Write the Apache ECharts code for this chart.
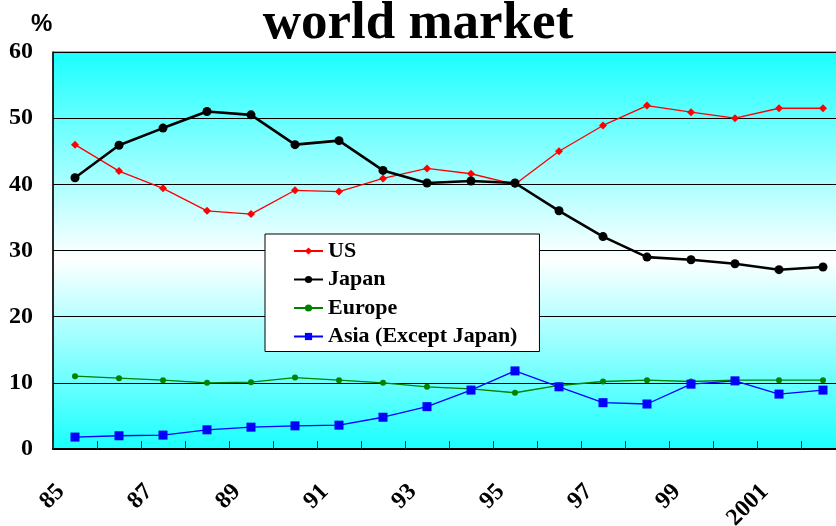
<!DOCTYPE html>
<html>
<head>
<meta charset="utf-8">
<script src="https://cdn.jsdelivr.net/npm/echarts@6/dist/echarts.min.js"></script>
<style>
  html, body { margin: 0; padding: 0; background: #ffffff; }
  #chart { width: 836px; height: 526px; }
</style>
</head>
<body>
<div id="chart"></div>
<script>
// Years on the category axis (85 … 2002)
const years = ['85', '86', '87', '88', '89', '90', '91', '92', '93', '94',
               '95', '96', '97', '98', '99', '2000', '2001', '2002'];

// Market share, %
const usShare     = [46.0, 42.0, 39.4, 36.0, 35.5, 39.1, 38.9, 40.9, 42.4, 41.6,
                     40.0, 45.0, 48.9, 51.9, 50.9, 50.0, 51.5, 51.5];
const japanShare  = [41.0, 45.9, 48.5, 51.0, 50.5, 46.0, 46.6, 42.1, 40.2, 40.5,
                     40.2, 36.0, 32.1, 29.0, 28.6, 28.0, 27.1, 27.5];
const europeShare = [11.0, 10.7, 10.4, 10.0, 10.1, 10.8, 10.4, 10.0, 9.4, 9.1,
                     8.5, 9.6, 10.2, 10.4, 10.2, 10.4, 10.4, 10.4];
const asiaShare   = [1.8, 2.0, 2.1, 2.9, 3.3, 3.5, 3.6, 4.8, 6.4, 8.9,
                     11.8, 9.4, 7.0, 6.8, 9.8, 10.3, 8.3, 8.9];

const serif = '"Liberation Serif", "Times New Roman", serif';

const chart = echarts.init(document.getElementById('chart'), null, { renderer: 'canvas' });

chart.setOption({
  animation: false,
  backgroundColor: '#ffffff',
  title: [
    {
      text: 'world market',
      left: 'center',
      top: -2,
      padding: 0,
      textStyle: { fontFamily: serif, fontWeight: 'bold', fontSize: 53, color: '#000' }
    },
    {
      text: '%',
      left: 31,
      top: 12,
      padding: 0,
      textStyle: { fontFamily: '"Liberation Sans", Arial, sans-serif', fontWeight: 'bold', fontSize: 24, color: '#000' }
    }
  ],
  legend: {
    orient: 'vertical',
    left: 265,
    top: 234,
    padding: [6, 22, 4, 28],
    itemWidth: 29,
    itemHeight: 9,
    itemGap: 6.5,
    backgroundColor: '#ffffff',
    borderColor: '#000000',
    borderWidth: 1,
    borderRadius: 0,
    textStyle: { fontFamily: serif, fontWeight: 'bold', fontSize: 22, color: '#000' },
    data: ['US', 'Japan', 'Europe', 'Asia (Except Japan)']
  },
  grid: {
    left: 53,
    top: 52,
    right: -9,
    bottom: 77,
    containLabel: false,
    outerBoundsMode: 'none',
    show: true,
    borderColor: '#555555',
    borderWidth: 1,
    backgroundColor: {
      type: 'linear', x: 0, y: 0, x2: 0, y2: 1,
      colorStops: [
        { offset: 0, color: '#1affff' },
        { offset: 0.52, color: '#ffffff' },
        { offset: 1, color: '#1affff' }
      ]
    }
  },
  xAxis: {
    type: 'category',
    data: years,
    boundaryGap: true,
    axisLine: { show: true, lineStyle: { color: '#000', width: 2 } },
    axisTick: { show: true, inside: true, length: 8, interval: 0, lineStyle: { color: '#333', width: 1 } },
    axisLabel: {
      interval: 1,
      rotate: 45,
      margin: 25,
      padding: [0, 20, 0, 0],
      fontFamily: serif,
      fontWeight: 'bold',
      fontSize: 24,
      color: '#000'
    },
    splitLine: { show: false }
  },
  yAxis: {
    type: 'value',
    min: 0,
    max: 60,
    interval: 10,
    axisLine: { show: true, lineStyle: { color: '#000', width: 1.5 } },
    axisTick: { show: false },
    axisLabel: {
      margin: 20,
      fontFamily: serif,
      fontWeight: 'bold',
      fontSize: 24,
      color: '#000'
    },
    splitLine: { show: true, lineStyle: { color: '#000', width: 1 } }
  },
  series: [
    {
      name: 'US',
      type: 'line',
      data: usShare,
      symbol: 'diamond',
      symbolSize: 8,
      itemStyle: { color: '#ff0000' },
      lineStyle: { color: '#ff0000', width: 1.3 }
    },
    {
      name: 'Japan',
      type: 'line',
      data: japanShare,
      symbol: 'circle',
      symbolSize: 9,
      itemStyle: { color: '#000000' },
      lineStyle: { color: '#000000', width: 2.6 }
    },
    {
      name: 'Europe',
      type: 'line',
      data: europeShare,
      symbol: 'circle',
      symbolSize: 6,
      itemStyle: { color: '#008000' },
      lineStyle: { color: '#008000', width: 1.3 }
    },
    {
      name: 'Asia (Except Japan)',
      type: 'line',
      data: asiaShare,
      symbol: 'rect',
      symbolSize: 9,
      itemStyle: { color: '#0000ff' },
      lineStyle: { color: '#0000ff', width: 1.3 }
    }
  ]
});
</script>
</body>
</html>
